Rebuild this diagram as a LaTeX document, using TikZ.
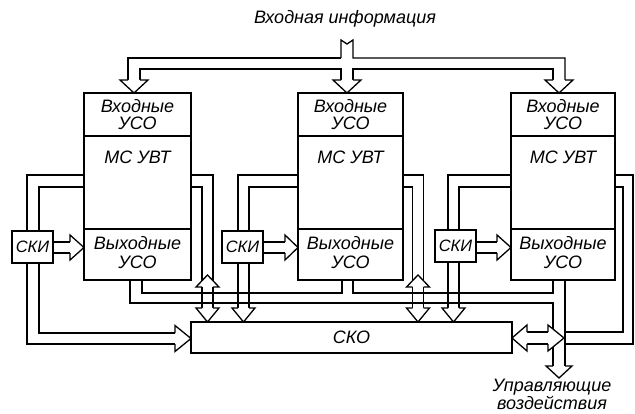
\documentclass[tikz,border=0pt]{standalone}
\usepackage{fontspec}
\setmainfont{Liberation Sans}
\usetikzlibrary{calc,backgrounds}
\tikzset{
  blk/.style={draw, line width=2.4pt, fill=white, minimum height=187pt, inner sep=0pt, outer sep=0pt, anchor=north west},
  smallbox/.style={draw, line width=2.2pt, fill=white, inner sep=0pt, outer sep=0pt, anchor=north west, font=\fontsize{16.5}{18}\selectfont\itshape},
  pipe/.style={line width=1.3pt, line join=miter},
  divider/.style={line width=1.5pt},
  lbl/.style={font=\fontsize{18}{18}\selectfont\itshape, inner sep=0pt, align=center},
}
% hollow arrow heads: centre, base, tip, stem half width, head half width
\newcommand{\vhead}[5]{%
  \fill[white] (#1-#5,#2) -- (#1,#3) -- (#1+#5,#2) -- cycle;
  \draw[pipe] (#1-#4,#2) -- (#1-#5,#2) -- (#1,#3) -- (#1+#5,#2) -- (#1+#4,#2);}
\newcommand{\hhead}[5]{%
  \fill[white] (#2,#1-#5) -- (#3,#1) -- (#2,#1+#5) -- cycle;
  \draw[pipe] (#2,#1-#4) -- (#2,#1-#5) -- (#3,#1) -- (#2,#1+#5) -- (#2,#1+#4);}
\begin{document}
\begin{tikzpicture}[x=1pt,y=-1pt]
\useasboundingbox (0,0) rectangle (635,414);

% blocks
\node[blk, minimum width=107pt] (b1) at (84,93) {};
\node[blk, minimum width=105pt] (b2) at (298,93) {};
\node[blk, minimum width=104pt] (b3) at (511,93) {};
\foreach \b in {b1,b2,b3}{
  \draw[divider] (\b.west |- 0,136) -- (\b.east |- 0,136);
  \draw[divider] (\b.west |- 0,229) -- (\b.east |- 0,229);
  \node[lbl] (\b in1) at (\b.north |- 0,106) {Входные};
  \node[lbl] (\b in2) at (\b.north |- 0,123) {УСО};
  \node[lbl] (\b mid) at (\b.north |- 0,157) {МС УВТ};
  \node[lbl] (\b out1) at (\b.north |- 0,243) {Выходные};
  \node[lbl] (\b out2) at (\b.north |- 0,262) {УСО};
}

% SKI boxes and SKO
\node[smallbox, minimum width=41pt, minimum height=32pt] (s1) at (12,231) {СКИ};
\node[smallbox, minimum width=41pt, minimum height=32pt] (s2) at (222,231) {СКИ};
\node[smallbox, minimum width=41pt, minimum height=32pt] (s3) at (435,230) {СКИ};
\node[smallbox, minimum width=321pt, minimum height=31pt, font=\fontsize{18}{18}\selectfont\itshape] (sko) at (191,322) {СКО};

% texts
\node[lbl] (tin) at (345,19) {Входная информация};
\node[lbl] (tout) at (552,394) {Управляющие\\воздействия};

\begin{pgfonlayer}{background}
\fill[white] (0,0) rectangle (635,414);
% input bus
\draw[pipe] (341,58) -- (341,40) -- (347,44) -- (353,40) -- (353,58) -- (565,58) -- (565,80);
\draw[pipe] (341,58) -- (128,58) -- (128,80);
\draw[pipe] (140,80) -- (140,69) -- (341,69) -- (341,80);
\draw[pipe] (353,80) -- (353,69) -- (553,69) -- (553,80);
\vhead{134}{80}{93}{6}{14}
\vhead{347}{80}{93}{6}{14}
\vhead{559}{80}{93}{6}{14}

% block 1 left pipe through SKI1 to SKO
\draw[pipe] (b1.west |- 0,175) -- (27,175) -- (27,344) -- (175,344);
\draw[pipe] (b1.west |- 0,187) -- (39,187) -- (39,333) -- (175,333);
\hhead{338.5}{175}{191}{5.5}{13}
% block 1 right pipe to SKO
\draw[pipe] (b1.east |- 0,175) -- (213,175) -- (213,308);
\draw[pipe] (b1.east |- 0,187) -- (202,187) -- (202,308);
\vhead{207.5}{287}{275}{5.5}{11.5}
\vhead{207.5}{308}{322}{5.5}{11.5}
% block 2 left pipe through SKI2
\draw[pipe] (b2.west |- 0,175) -- (238,175) -- (238,308);
\draw[pipe] (b2.west |- 0,187) -- (249,187) -- (249,308);
\vhead{243.5}{308}{322}{5.5}{11.5}
% block 2 right pipe
\draw[pipe] (b2.east |- 0,175) -- (423.5,175) -- (423.5,308);
\draw[pipe] (b2.east |- 0,187) -- (412.5,187) -- (412.5,308);
\vhead{418}{287}{275}{5.5}{11.5}
\vhead{418}{308}{322}{5.5}{11.5}
% block 3 left pipe through SKI3
\draw[pipe] (b3.west |- 0,175) -- (448,175) -- (448,308);
\draw[pipe] (b3.west |- 0,187) -- (459,187) -- (459,308);
\vhead{453.5}{308}{322}{5.5}{11.5}
% block 3 right pipe
\draw[pipe] (b3.east |- 0,175) -- (633,175) -- (633,344) -- (565,344);
\draw[pipe] (b3.east |- 0,187) -- (623,187) -- (623,332) -- (565,332);

% output bus
\draw[pipe] (b1.south -| 130,0) -- (130,303) -- (553,303) -- (553,366);
\draw[pipe] (b1.south -| 142,0) -- (142,293) -- (342,293) -- (b2.south -| 342,0);
\draw[pipe] (b2.south -| 353,0) -- (353,293) -- (553,293) -- (b3.south -| 553,0);
\draw[pipe] (b3.south -| 565,0) -- (565,366);
\vhead{559}{366}{378}{6}{13}

% double arrow SKO <-> block 3
\draw[pipe] (527,332) -- (548,332);
\draw[pipe] (527,344) -- (548,344);
\hhead{338}{527}{512}{6}{13}
\hhead{338}{548}{564}{6}{13}

% SKI -> output USO
\draw[pipe] (s1.east |- 0,242) -- (70,242);
\draw[pipe] (s1.east |- 0,253) -- (70,253);
\hhead{247.5}{70}{84}{5.5}{12.5}
\draw[pipe] (s2.east |- 0,242) -- (285,242);
\draw[pipe] (s2.east |- 0,253) -- (285,253);
\hhead{247.5}{285}{298}{5.5}{12.5}
\draw[pipe] (s3.east |- 0,242) -- (497,242);
\draw[pipe] (s3.east |- 0,253) -- (497,253);
\hhead{247.5}{497}{511}{5.5}{12.5}
\end{pgfonlayer}
\end{tikzpicture}
\end{document}
